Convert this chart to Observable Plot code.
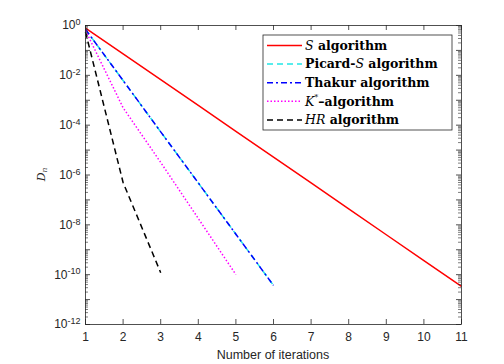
<!DOCTYPE html>
<html>
<head>
<meta charset="utf-8">
<script src="https://cdn.jsdelivr.net/npm/d3@7"></script>
<script src="https://cdn.jsdelivr.net/npm/@observablehq/plot@0.6"></script>
<style>
  html, body { margin: 0; padding: 0; background: #fff; }
  #chart { position: relative; width: 504px; height: 364px; }
</style>
</head>
<body>
<div id="chart"></div>
<script>
// ---- data ----
const iterS = [1, 2, 3, 4, 5, 6, 7, 8, 9, 10, 11];
const sAlg = [0.79, 7.3e-2, 6.7e-3, 6.2e-4, 5.6e-5, 5.2e-6, 4.8e-7, 4.4e-8, 4.0e-9, 3.7e-10, 3.4e-11];
const iterPicard = [1, 2, 3, 4, 5, 6];
const picardS = [0.7, 6.2e-3, 5.4e-5, 4.8e-7, 4.2e-9, 3.7e-11];
const iterThakur = [1, 2, 3, 4, 5, 6];
const thakur = [0.7, 6.2e-3, 5.4e-5, 4.8e-7, 4.2e-9, 3.7e-11];
const iterK = [1, 2, 3, 4, 5];
const kStar = [0.63, 5.0e-4, 3.2e-6, 1.8e-8, 1.0e-10];
const iterHR = [1, 2, 3];
const hr = [0.55, 5.0e-7, 1.2e-10];

const xTicks = [1, 2, 3, 4, 5, 6, 7, 8, 9, 10, 11];
const yTickExps = [0, -2, -4, -6, -8, -10, -12];
const seriesNames = ["S algorithm", "Picard-S algorithm", "Thakur algorithm", "K*-algorithm", "HR algorithm"];

// ---- styles ----
const styles = [
  {stroke: "#ff0000", dash: null},
  {stroke: "#22e6e6", dash: "6,4"},
  {stroke: "#0000ff", dash: "6,3,2,3"},
  {stroke: "#ff00ff", dash: "1.5,2"},
  {stroke: "#000000", dash: "6,4"}
];

const W = 504, H = 364, mL = 85, mR = 43, mT = 25, mB = 40;
const pw = W - mL - mR, ph = H - mT - mB;

const toRows = (xs, ys) => xs.map((x, i) => ({x, y: ys[i]}));
const seriesData = [
  toRows(iterS, sAlg),
  toRows(iterPicard, picardS),
  toRows(iterThakur, thakur),
  toRows(iterK, kStar),
  toRows(iterHR, hr)
];

const yTicks = yTickExps.map(e => Math.pow(10, e));
const yMajorAll = d3.range(-12, 1).map(e => Math.pow(10, e));
const yMinor = [];
for (let e = -12; e < 0; e++) for (let m = 2; m <= 9; m++) yMinor.push(m * Math.pow(10, e));

const axisColor = "#262626";

const lineMarks = seriesData.map((rows, i) => Plot.line(rows, {
  x: "x", y: "y", stroke: styles[i].stroke, strokeWidth: 1.5,
  strokeDasharray: styles[i].dash || undefined, strokeLinecap: "butt"
}));

const chart = Plot.plot({
  width: W, height: H,
  marginLeft: mL, marginRight: mR, marginTop: mT, marginBottom: mB,
  style: {fontFamily: "'Liberation Sans', Arial, sans-serif", fontSize: "11px", color: axisColor, background: "#fff"},
  x: {domain: [1, 11], label: null},
  y: {type: "log", domain: [1e-12, 1], label: null},
  marks: [
    ...lineMarks,
    Plot.tickX(xTicks, {x: d => d, insetTop: ph - 5, stroke: axisColor, strokeWidth: 0.8}),
    Plot.tickX(xTicks, {x: d => d, insetBottom: ph - 5, stroke: axisColor, strokeWidth: 0.8}),
    Plot.tickY(yMajorAll, {y: d => d, insetRight: pw - 5, stroke: axisColor, strokeWidth: 0.8}),
    Plot.tickY(yMajorAll, {y: d => d, insetLeft: pw - 5, stroke: axisColor, strokeWidth: 0.8}),
    Plot.tickY(yMinor, {y: d => d, insetRight: pw - 3, stroke: axisColor, strokeWidth: 0.6}),
    Plot.tickY(yMinor, {y: d => d, insetLeft: pw - 3, stroke: axisColor, strokeWidth: 0.6}),
    Plot.axisX({ticks: xTicks, tickSize: 0, tickPadding: 8, tickFormat: d => String(d), fontSize: 12, label: null}),
    Plot.axisY({ticks: yTicks, tickSize: 0, tickPadding: 5, tickFormat: d => String(Math.round(Math.log10(d))), fontSize: 12, label: null}),
    Plot.frame({stroke: axisColor, strokeWidth: 0.8})
  ]
});

document.getElementById("chart").appendChild(chart);

const svg = d3.select(chart);

// superscript y tick labels: 10^e
svg.selectAll("g[aria-label='y-axis tick label'] text").each(function() {
  const t = d3.select(this);
  const e = t.text();
  t.text(null);
  t.append("tspan").text("10");
  t.append("tspan").attr("dy", "-0.45em").attr("font-size", "9px").text(e);
});

// x-axis label
svg.append("text")
  .attr("x", mL + pw / 2).attr("y", 359)
  .attr("text-anchor", "middle")
  .attr("font-family", "'Liberation Sans', Arial, sans-serif")
  .attr("font-size", 12.5).attr("fill", axisColor)
  .text("Number of iterations");

// y-axis label D_n
const yl = svg.append("text")
  .attr("transform", `translate(45, ${mT + ph / 2}) rotate(-90)`)
  .attr("text-anchor", "middle")
  .attr("font-family", "'DejaVu Serif', serif")
  .attr("font-size", 11).attr("fill", axisColor);
yl.append("tspan").attr("font-style", "italic").text("D");
yl.append("tspan").attr("font-style", "italic").attr("font-size", 7.5).attr("dy", "0.3em").text("n");

// legend
const lg = svg.append("g").attr("text-anchor", "start");
const lx = 263, ly = 35, lw = 189, lh = 95;
lg.append("rect").attr("x", lx).attr("y", ly).attr("width", lw).attr("height", lh)
  .attr("fill", "#fff").attr("stroke", axisColor).attr("stroke-width", 0.8);
const rowY = i => 45.5 + i * 18.6;
const labelParts = [
  [["S", "i"], [" algorithm", "b"]],
  [["Picard-", "b"], ["S", "i"], [" algorithm", "b"]],
  [["Thakur algorithm", "b"]],
  [["K", "i"], ["*", "sup"], ["\u2013algorithm", "b"]],
  [["HR", "i"], [" algorithm", "b"]]
];
seriesNames.forEach((name, i) => {
  const y = rowY(i);
  const ln = lg.append("line").attr("x1", 267).attr("x2", 302).attr("y1", y).attr("y2", y)
    .attr("stroke", styles[i].stroke).attr("stroke-width", 1.5);
  if (styles[i].dash) ln.attr("stroke-dasharray", styles[i].dash);
  const t = lg.append("text").attr("x", 305).attr("y", y).attr("dy", "0.35em")
    .attr("text-anchor", "start")
    .attr("font-family", "'DejaVu Serif', serif")
    .attr("font-size", 12.5).attr("fill", "#000");
  let supped = false;
  labelParts[i].forEach(([s, k]) => {
    const sp = t.append("tspan").text(s);
    if (k === "i") sp.attr("font-style", "italic");
    if (k === "b") { sp.attr("font-weight", "bold"); if (supped) { sp.attr("dy", "0.45em"); supped = false; } }
    if (k === "sup") { sp.attr("font-size", 8).attr("dy", "-0.7em"); supped = true; }
  });
  t.append("title").text(name);
});
</script>
</body>
</html>
